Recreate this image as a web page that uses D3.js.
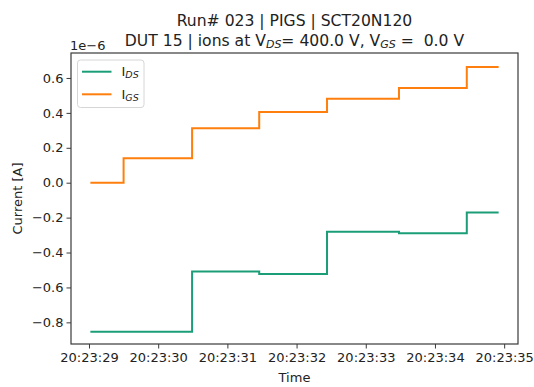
<!DOCTYPE html>
<html>
<head>
<meta charset="utf-8">
<script src="https://cdn.jsdelivr.net/npm/d3@7"></script>
<style>
  html, body { margin: 0; padding: 0; background: #fff; }
  svg { display: block; font-family: "DejaVu Sans", sans-serif; }
</style>
</head>
<body>
<svg id="chart" width="534" height="387"></svg>
<script>
// Sample timestamps (seconds past 20:23:00) and measured currents in amperes.
const sampleSeconds = [29.02, 29.50, 30.49, 31.46, 32.44, 33.48, 34.46, 34.92];
const currentDS = [-0.854e-6, -0.854e-6, -0.508e-6, -0.523e-6, -0.281e-6, -0.290e-6, -0.170e-6, -0.170e-6];
const currentGS = [0.000e-6, 0.140e-6, 0.312e-6, 0.405e-6, 0.481e-6, 0.543e-6, 0.663e-6, 0.663e-6];
const seriesNames = ["DS", "GS"];
const seriesColors = ["#1b9e77", "#ff7f0e"];
const yTicks = [-0.8e-6, -0.6e-6, -0.4e-6, -0.2e-6, 0, 0.2e-6, 0.4e-6, 0.6e-6];
const xTickSeconds = [29, 30, 31, 32, 33, 34, 35];

const base = new Date(2023, 0, 1, 20, 23, 0);
const toDate = s => new Date(base.getTime() + s * 1000);

const svg = d3.select("#chart");
const margin = { left: 71, right: 16, top: 53, bottom: 43 };
const W = 534, H = 387;
const iw = W - margin.left - margin.right;
const ih = H - margin.top - margin.bottom;

const x = d3.scaleTime()
  .domain([toDate(28.74), toDate(35.20)])
  .range([margin.left, margin.left + iw]);
const y = d3.scaleLinear()
  .domain([-0.924e-6, 0.743e-6])
  .range([margin.top + ih, margin.top]);

const fmtTime = d3.timeFormat("%H:%M:%S");
const axisColor = "#3a3a3a";

// x axis
const gx = svg.append("g")
  .attr("transform", `translate(0,${margin.top + ih})`)
  .call(d3.axisBottom(x).tickValues(xTickSeconds.map(toDate)).tickFormat(fmtTime).tickSizeOuter(0).tickSize(4.5).tickPadding(4));
gx.select(".domain").remove();
gx.selectAll("line").attr("stroke", axisColor).attr("stroke-width", 1);
gx.selectAll("text").attr("font-size", 13).attr("fill", "#222").attr("font-family", "DejaVu Sans");

// y axis
const gy = svg.append("g")
  .attr("transform", `translate(${margin.left},0)`)
  .call(d3.axisLeft(y).tickValues(yTicks).tickFormat(v => d3.format(".1f")(v / 1e-6).replace("-", "\u2212")).tickSizeOuter(0).tickSize(4.5).tickPadding(3));
gy.select(".domain").remove();
gy.selectAll("line").attr("stroke", axisColor).attr("stroke-width", 1);
gy.selectAll("text").attr("font-size", 13).attr("fill", "#222").attr("font-family", "DejaVu Sans");

// plot frame
svg.append("rect")
  .attr("x", margin.left).attr("y", margin.top)
  .attr("width", iw).attr("height", ih)
  .attr("fill", "none").attr("stroke", axisColor).attr("stroke-width", 1.2);

// step lines
const line = d3.line()
  .x(d => x(toDate(d[0])))
  .y(d => y(d[1]))
  .curve(d3.curveStepAfter);

const series = [currentDS, currentGS];
series.forEach((vals, i) => {
  svg.append("path")
    .datum(sampleSeconds.map((s, k) => [s, vals[k]]))
    .attr("fill", "none")
    .attr("stroke", seriesColors[i])
    .attr("stroke-width", 2)
    .attr("d", line);
});

// legend
const lg = svg.append("g");
lg.append("rect")
  .attr("x", 77.5).attr("y", 60).attr("width", 66.5).attr("height", 47.5)
  .attr("rx", 3).attr("fill", "#fff").attr("fill-opacity", 0.8)
  .attr("stroke", "#d6d6d6").attr("stroke-width", 1);
seriesNames.forEach((n, i) => {
  const yy = 71.7 + i * 22.6;
  lg.append("line")
    .attr("x1", 82).attr("x2", 111.5).attr("y1", yy).attr("y2", yy)
    .attr("stroke", seriesColors[i]).attr("stroke-width", 2);
  const t = lg.append("text")
    .attr("x", 121.5).attr("y", yy + 4.7)
    .attr("font-size", 13).attr("fill", "#222");
  t.append("tspan").text("I");
  t.append("tspan").attr("font-size", 9.5).attr("font-style", "italic").attr("dy", 1.5).text(n);
});

// axis labels
svg.append("text")
  .attr("x", margin.left + iw / 2).attr("y", 381.5)
  .attr("text-anchor", "middle").attr("font-size", 13).attr("fill", "#222")
  .text("Time");
svg.append("text")
  .attr("transform", `translate(21.5,${margin.top + ih / 2}) rotate(-90)`)
  .attr("text-anchor", "middle").attr("font-size", 13).attr("fill", "#222")
  .text("Current [A]");

// axis offset text
svg.append("text")
  .attr("x", margin.left - 1).attr("y", 50)
  .attr("font-size", 13).attr("fill", "#222")
  .text("1e\u22126");

// title
const cx = margin.left + iw / 2;
svg.append("text")
  .attr("x", cx).attr("y", 26)
  .attr("text-anchor", "middle").attr("font-size", 15.6).attr("fill", "#222")
  .text("Run# 023 | PIGS | SCT20N120");
const t2 = svg.append("text")
  .attr("x", cx).attr("y", 45.8)
  .attr("text-anchor", "middle").attr("font-size", 15.6).attr("fill", "#222")
  .attr("xml:space", "preserve").style("white-space", "pre");
t2.append("tspan").text("DUT 15 | ions at V");
t2.append("tspan").attr("font-size", 11).attr("font-style", "italic").attr("dy", 2).text("DS");
t2.append("tspan").attr("dy", -2).text("= 400.0 V, V");
t2.append("tspan").attr("font-size", 11).attr("font-style", "italic").attr("dy", 2).text("GS");
t2.append("tspan").attr("dy", -2).text(" =  0.0 V");
</script>
</body>
</html>
